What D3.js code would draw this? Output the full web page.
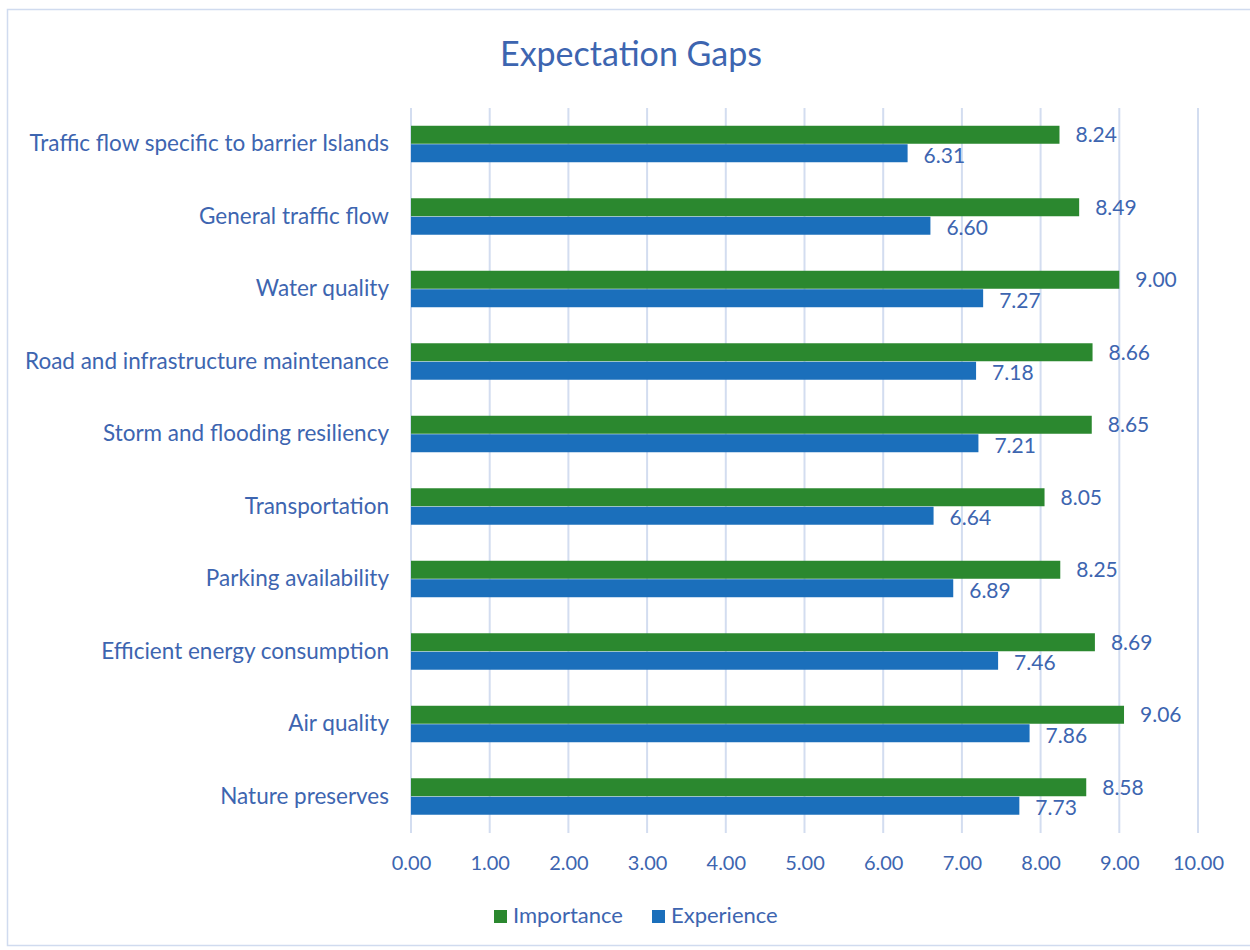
<!DOCTYPE html>
<html><head><meta charset="utf-8">
<script src="https://cdn.jsdelivr.net/npm/d3@7"></script>
<style>body{margin:0;background:#fff;} text{font-family:Lato, "Open Sans", sans-serif;}</style>
</head><body>
<svg id="c" width="1250" height="950"></svg>
<script>
const categories = ["Traffic flow specific to barrier Islands","General traffic flow","Water quality","Road and infrastructure maintenance","Storm and flooding resiliency","Transportation","Parking availability","Efficient energy consumption","Air quality","Nature preserves"];
const importance = [8.24,8.49,9.00,8.66,8.65,8.05,8.25,8.69,9.06,8.58];
const experience = [6.31,6.60,7.27,7.18,7.21,6.64,6.89,7.46,7.86,7.73];
const ticks = [0,1,2,3,4,5,6,7,8,9,10];
const seriesNames = ["Importance","Experience"];
const colors = ["#2b882f","#1b6fbb"];
const textColor = "#3d65b0";

const svg = d3.select("#c");
svg.append("rect").attr("x",7.5).attr("y",9.5).attr("width",1250).attr("height",936).attr("fill","#fff").attr("stroke","#d0dbef").attr("stroke-width",1.5);

const x = d3.scaleLinear().domain([0,10]).range([411,1198]);
const y = d3.scaleBand().domain(categories).range([108,833]).paddingInner(0.49).paddingOuter(0.245);
const sub = d3.scaleBand().domain(seriesNames).range([0,y.bandwidth()]);

svg.append("text").attr("x",631).attr("y",57).attr("text-anchor","middle").attr("dominant-baseline","middle").attr("font-size",34).attr("fill",textColor).text("Expectation Gaps");

// grid
svg.append("g").selectAll("line").data(ticks).join("line")
  .attr("x1",d=>x(d)).attr("x2",d=>x(d)).attr("y1",108).attr("y2",833)
  .attr("stroke","#d3ddf0").attr("stroke-width",2);

// x axis labels
const xa = svg.append("g").attr("transform","translate(0,833)").call(d3.axisBottom(x).tickValues(ticks).tickFormat(d3.format(".2f")).tickSize(0).tickPadding(23));
xa.select(".domain").remove();
xa.selectAll("text").attr("font-size",20).attr("fill",textColor).style("font-family","Lato, sans-serif");

// y axis labels
const ya = svg.append("g").attr("transform","translate(411,0)").call(d3.axisLeft(y).tickSize(0).tickPadding(22));
ya.select(".domain").remove();
ya.selectAll("text").attr("font-size",22.5).attr("fill",textColor).style("font-family","Lato, sans-serif");

const data = categories.map((c,i)=>({c, vals:[{s:"Importance",v:importance[i]},{s:"Experience",v:experience[i]}]}));
const g = svg.append("g").selectAll("g").data(data).join("g").attr("transform",d=>`translate(0,${y(d.c)})`);
g.selectAll("rect").data(d=>d.vals).join("rect")
  .attr("x",x(0)).attr("y",d=>sub(d.s)).attr("width",d=>x(d.v)-x(0)).attr("height",sub.bandwidth()-0.5)
  .attr("fill",(d,i)=>colors[i]);
g.selectAll("text").data(d=>d.vals).join("text")
  .attr("x",d=>x(d.v)+16).attr("y",(d,i)=>sub(d.s)+sub.bandwidth()/2+(i===0?2:4))
  .attr("dominant-baseline","middle").attr("font-size",21).attr("fill",textColor)
  .text(d=>d.v.toFixed(2));

// legend
const lg = svg.append("g").attr("transform","translate(494,910)");
seriesNames.forEach((s,i)=>{
  const off = i===0?0:158;
  lg.append("rect").attr("x",off).attr("y",0).attr("width",13).attr("height",13).attr("fill",colors[i]);
  lg.append("text").attr("x",off+19).attr("y",7).attr("dominant-baseline","middle").attr("font-size",22).attr("fill",textColor).text(s);
});
</script>
</body></html>
